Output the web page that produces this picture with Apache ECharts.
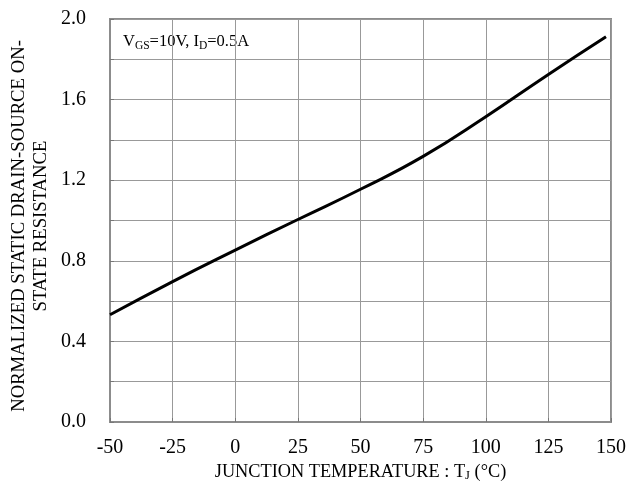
<!DOCTYPE html>
<html>
<head>
<meta charset="utf-8">
<script src="https://cdn.jsdelivr.net/npm/echarts@6/dist/echarts.min.js"></script>
<style>
  html, body { margin: 0; padding: 0; background: #fff; }
  #chart { width: 628px; height: 485px; }
</style>
</head>
<body>
<div id="chart"></div>
<script>
// 读图得到的数据
const temps = [-50, -25, 0, 25, 50, 75, 100, 125, 148];
const resistance = [0.532, 0.697, 0.853, 1.005, 1.155, 1.318, 1.515, 1.725, 1.912];
const xTicks = [-50, -25, 0, 25, 50, 75, 100, 125, 150];
const yTickLabels = ['0.0', '0.4', '0.8', '1.2', '1.6', '2.0'];
const yName = 'NORMALIZED STATIC DRAIN-SOURCE ON-\nSTATE RESISTANCE';

const serif = '"Liberation Serif", "Times New Roman", serif';
const myChart = echarts.init(document.getElementById('chart'));

myChart.setOption({
  animation: false,
  textStyle: { fontFamily: serif, color: '#000' },
  grid: {
    left: 110, right: 17, top: 19, bottom: 63,
    outerBoundsMode: 'none',
    show: true, borderColor: '#8c8c8c', borderWidth: 2
  },
  graphic: [{
    type: 'text',
    left: 123, top: 33,
    style: {
      text: '{m|V}{s|GS}{m|=10V, I}{s|D}{m|=0.5A}',
      rich: {
        m: { fontSize: 16.5, lineHeight: 20, verticalAlign: 'middle', fontFamily: serif, fill: '#000' },
        s: { fontSize: 11.5, lineHeight: 11, verticalAlign: 'bottom', fontFamily: serif, fill: '#000' }
      }
    }
  }, {
    // y轴标题（两行，竖排）
    type: 'text',
    x: 30, y: 226,
    rotation: Math.PI / 2,
    style: {
      text: yName,
      align: 'center', verticalAlign: 'middle',
      fontSize: 18.7, lineHeight: 22, fontFamily: serif, fill: '#000'
    }
  }],
  xAxis: {
    type: 'value',
    min: xTicks[0], max: xTicks[xTicks.length - 1], interval: 25,
    name: '{m|JUNCTION TEMPERATURE : T}{s|J}{m| (°C)}',
    nameLocation: 'middle', nameGap: 36,
    nameTextStyle: {
      rich: {
        m: { fontSize: 18.3, lineHeight: 20, verticalAlign: 'middle', fontFamily: serif, color: '#000' },
        s: { fontSize: 12.5, lineHeight: 11, verticalAlign: 'bottom', fontFamily: serif, color: '#000' }
      }
    },
    axisLine: { show: true, onZero: false, lineStyle: { color: '#8c8c8c', width: 2 } },
    axisTick: { show: true, inside: true, length: 4, lineStyle: { color: '#777' } },
    axisLabel: { fontSize: 20, color: '#000', margin: 16, fontFamily: serif },
    splitLine: { show: true, lineStyle: { color: '#999', width: 1 } }
  },
  yAxis: {
    type: 'value',
    min: 0, max: 2, interval: 0.2,
    axisLine: { show: true, onZero: false, lineStyle: { color: '#8c8c8c', width: 2 } },
    axisTick: { show: true, inside: true, length: 4, lineStyle: { color: '#777' } },
    axisLabel: {
      fontSize: 20, color: '#000', margin: 24, fontFamily: serif,
      formatter: v => {
        const s = v.toFixed(1);
        return yTickLabels.includes(s) ? s : '';
      }
    },
    splitLine: { show: true, lineStyle: { color: '#999', width: 1 } }
  },
  series: [{
    type: 'line',
    data: temps.map((t, i) => [t, resistance[i]]),
    smooth: true,
    showSymbol: false,
    lineStyle: { color: '#000', width: 3 }
  }]
});
</script>
</body>
</html>
